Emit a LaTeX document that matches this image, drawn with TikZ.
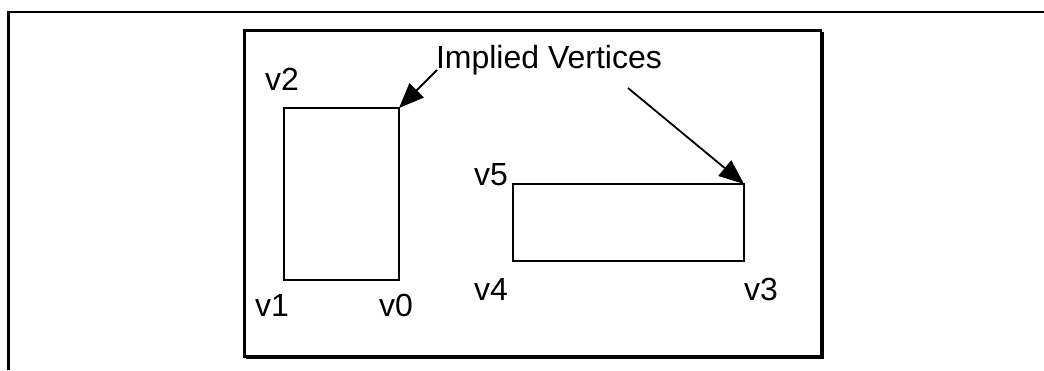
\documentclass[tikz,border=0pt]{standalone}
\usepackage{fontspec}
\setmainfont{Liberation Sans}
\usetikzlibrary{arrows.meta}
\begin{document}
\begin{tikzpicture}[x=1pt,y=-1pt,
  frame/.style={line width=2.2pt},
  vrect/.style={draw,line width=1.6pt,inner sep=0pt,outer sep=0pt},
  lbl/.style={anchor=base west,inner sep=0pt,outer sep=0pt,font=\fontsize{32}{36}\selectfont},
  arr/.style={line width=1.8pt,-{Triangle[length=25pt,width=20pt]}}]
\useasboundingbox (0,0) rectangle (1044,370);
% outer frame
\draw[frame] (8.5,370) -- (8.5,12) -- (1044,12);
% inner box with shadow
\draw[frame] (244.5,30.5) rectangle (821,356.5);
\draw[line width=2pt] (822.5,32) -- (822.5,358) -- (246,358);
% rectangles
\node[vrect,minimum width=115pt,minimum height=172pt] (r1) at (341.5,194) {};
\node[vrect,minimum width=231pt,minimum height=77pt] (r2) at (628.5,222.5) {};
% labels
\node[lbl] (v2) at (265,90) {v2};
\node[lbl] (v1) at (255,316) {v1};
\node[lbl] (v0) at (379,316) {v0};
\node[lbl] (v5) at (474,185) {v5};
\node[lbl] (v4) at (474,300) {v4};
\node[lbl] (v3) at (744,300) {v3};
\node[lbl] (iv) at (436,68) {Implied Vertices};
% arrows
\coordinate (s1) at (437,70);
\coordinate (s2) at (628,88);
\draw[arr] (s1) -- (r1.north east);
\draw[arr] (s2) -- (r2.north east);
\end{tikzpicture}
\end{document}
